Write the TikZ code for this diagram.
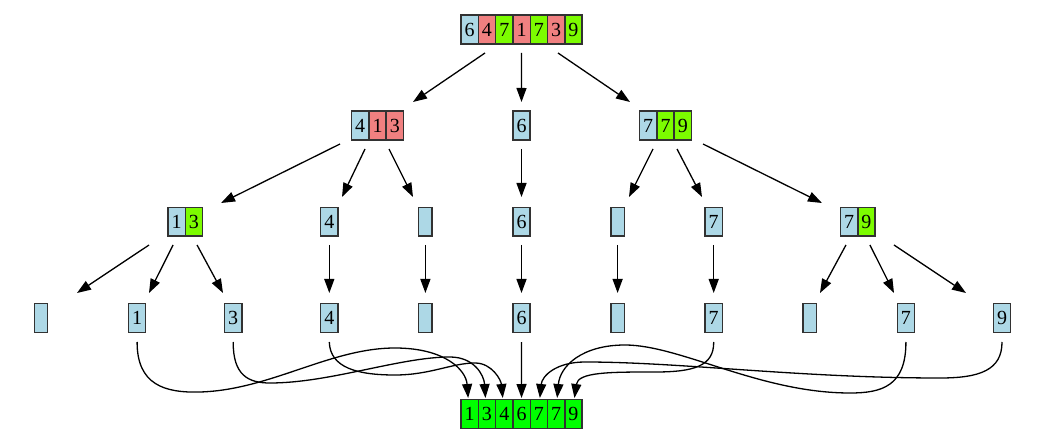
\documentclass[tikz,border=0pt]{standalone}
\usepackage{fontspec}
\setmainfont{Liberation Serif}
\usetikzlibrary{arrows.meta,calc}
\definecolor{cblue}{RGB}{173,216,230}
\definecolor{cred}{RGB}{240,128,128}
\definecolor{cgreen}{RGB}{124,252,0}
\definecolor{cdone}{RGB}{0,255,0}
\definecolor{cframe}{RGB}{50,50,50}
\tikzset{
  cell/.style={draw=cframe, line width=1.4pt, minimum width=17.3pt, minimum height=28.8pt,
               inner sep=0pt, font=\fontsize{20}{20}\selectfont},
  bl/.style={cell, fill=cblue},
  nil/.style={bl, minimum width=13.5pt},
  rd/.style={cell, fill=cred},
  gr/.style={cell, fill=cgreen},
  dn/.style={cell, fill=cdone},
  arr/.style={-{Triangle[length=14pt,width=10pt]}, line width=1.3pt, black},
}
\begin{document}
\begin{tikzpicture}[x=1pt,y=-1pt]
\useasboundingbox (0,0) rectangle (1043,443);

% input array
\node[bl] (t1) at (469.65,29.5) {6};
\node[rd] (t2) at (486.95,29.5) {4};
\node[gr] (t3) at (504.25,29.5) {7};
\node[rd] (t4) at (521.55,29.5) {1};
\node[gr] (t5) at (538.85,29.5) {7};
\node[rd] (t6) at (556.15,29.5) {3};
\node[gr] (t7) at (573.45,29.5) {9};

% first partition
\node[bl] (a1) at (360.2,125.6) {4};
\node[rd] (a2) at (377.5,125.6) {1};
\node[rd] (a3) at (394.8,125.6) {3};
\node[bl] (b1) at (521.5,125.6) {6};
\node[bl] (c1) at (648.2,125.6) {7};
\node[gr] (c2) at (665.5,125.6) {7};
\node[gr] (c3) at (682.8,125.6) {9};

% second partition
\node[bl]  (d1) at (176.55,221.7) {1};
\node[gr]  (d2) at (193.85,221.7) {3};
\node[bl]  (e)  at (329.3,221.7) {4};
\node[nil] (f)  at (425.4,221.7) {};
\node[bl]  (g)  at (521.5,221.7) {6};
\node[nil] (h)  at (617.6,221.7) {};
\node[bl]  (i)  at (713.7,221.7) {7};
\node[bl]  (j1) at (849.15,221.7) {7};
\node[gr]  (j2) at (866.45,221.7) {9};

% leaves
\node[nil] (k1)  at (41,317.8) {};
\node[bl]  (k2)  at (137.1,317.8) {1};
\node[bl]  (k3)  at (233.2,317.8) {3};
\node[bl]  (k4)  at (329.3,317.8) {4};
\node[nil] (k5)  at (425.4,317.8) {};
\node[bl]  (k6)  at (521.5,317.8) {6};
\node[nil] (k7)  at (617.6,317.8) {};
\node[bl]  (k8)  at (713.7,317.8) {7};
\node[nil] (k9)  at (809.8,317.8) {};
\node[bl]  (k10) at (905.9,317.8) {7};
\node[bl]  (k11) at (1002,317.8) {9};

% sorted result
\node[dn] (z1) at (469.65,413.9) {1};
\node[dn] (z2) at (486.95,413.9) {3};
\node[dn] (z3) at (504.25,413.9) {4};
\node[dn] (z4) at (521.55,413.9) {6};
\node[dn] (z5) at (538.85,413.9) {7};
\node[dn] (z6) at (556.15,413.9) {7};
\node[dn] (z7) at (573.45,413.9) {9};

% level 0 -> level 1
\draw[arr] ($(t2)+(-1.95,23.5)$) -- ($(a2)+(35.5,-23.6)$);
\draw[arr] ($(t4)+(0,23.5)$) -- ($(b1)+(0,-23.6)$);
\draw[arr] ($(t6)+(1.85,23.5)$) -- ($(c2)+(-35.5,-23.6)$);

% level 1 -> level 2
\draw[arr] ($(a1)+(-20.2,18.4)$) -- ($(d2)+(27.2,-18.7)$);
\draw[arr] ($(a2)+(-12.5,23.4)$) -- ($(e)+(12.7,-24.7)$);
\draw[arr] ($(a2)+(11.5,23.4)$) -- ($(f)+(-12.4,-24.7)$);
\draw[arr] ($(b1)+(0,23.4)$) -- ($(g)+(0,-24.7)$);
\draw[arr] ($(c2)+(-12.5,23.4)$) -- ($(h)+(11.4,-24.7)$);
\draw[arr] ($(c2)+(11.5,23.4)$) -- ($(i)+(-11.7,-24.7)$);
\draw[arr] ($(c3)+(20.2,18.4)$) -- ($(j1)+(-27.2,-18.7)$);

% level 2 -> level 3
\draw[arr] ($(d1)+(-27.5,23.3)$) -- ($(k1)+(36,-24.8)$);
\draw[arr] ($(d1)+(-3.5,23.3)$) -- ($(k2)+(11.9,-24.8)$);
\draw[arr] ($(d2)+(3.2,23.3)$) -- ($(k3)+(-10.2,-24.8)$);
\draw[arr] ($(e)+(0,23.3)$) -- ($(k4)+(0,-24.8)$);
\draw[arr] ($(f)+(0,23.3)$) -- ($(k5)+(0,-24.8)$);
\draw[arr] ($(g)+(0,23.3)$) -- ($(k6)+(0,-24.8)$);
\draw[arr] ($(h)+(0,23.3)$) -- ($(k7)+(0,-24.8)$);
\draw[arr] ($(i)+(0,23.3)$) -- ($(k8)+(0,-24.8)$);
\draw[arr] ($(j1)+(-3.2,23.3)$) -- ($(k9)+(10.2,-24.8)$);
\draw[arr] ($(j2)+(3.5,23.3)$) -- ($(k10)+(-11.9,-24.8)$);
\draw[arr] ($(j2)+(27.5,23.3)$) -- ($(k11)+(-36,-24.8)$);

% leaves -> sorted result
\draw[arr] ($(k2)+(0,24.2)$) .. controls (137,385) and (165,393) .. (200,392)
  .. controls (270,390) and (330,348) .. (395,348)
  .. controls (445,348) and (466,370) .. ($(z1)+(-1.5,-15.9)$);
\draw[arr] ($(k3)+(0,24.2)$) .. controls (233,375) and (248,383) .. (270,383)
  .. controls (330,383) and (400,357) .. (450,357)
  .. controls (474,357) and (484,375) .. ($(z2)+(-1.5,-15.9)$);
\draw[arr] ($(k4)+(0,24.2)$) .. controls (330,368) and (358,375) .. (395,375)
  .. controls (430,375) and (452,363) .. (475,363)
  .. controls (492,363) and (501,380) .. ($(z3)+(-1.5,-15.9)$);
\draw[arr] ($(k6)+(0,24.2)$) -- ($(z4)+(0,-15.9)$);
\draw[arr] ($(k8)+(0,24.2)$) .. controls (714,366) and (694,372) .. (655,372)
  .. controls (610,372) and (578,372) .. ($(z7)+(1,-15.9)$);
\draw[arr] ($(k10)+(0,24.2)$) .. controls (906,386) and (882,393) .. (850,393)
  .. controls (760,393) and (680,345) .. (625,345)
  .. controls (582,345) and (560,366) .. ($(z6)+(1,-15.9)$);
\draw[arr] ($(k11)+(0,24.2)$) .. controls (1002,370) and (980,378) .. (940,378)
  .. controls (800,378) and (680,362) .. (585,362)
  .. controls (556,362) and (542,376) .. ($(z5)+(1,-15.9)$);
\end{tikzpicture}
\end{document}
